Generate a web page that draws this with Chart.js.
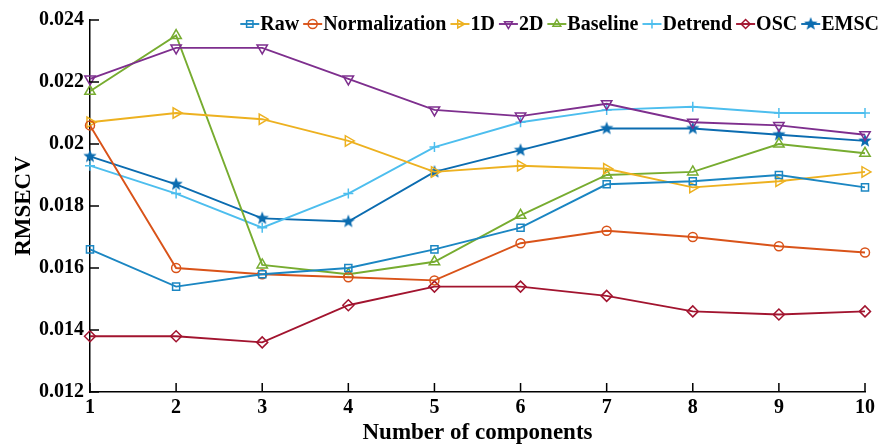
<!DOCTYPE html>
<html>
<head>
<meta charset="utf-8">
<script src="https://cdn.jsdelivr.net/npm/chart.js@4/dist/chart.umd.min.js"></script>
<style>
  html, body { margin: 0; background: #fff; }
  #wrap { width: 882px; height: 447px; }
</style>
</head>
<body>
<div id="wrap"><canvas id="chart" width="882" height="447"></canvas></div>
<script>
// values
const components = ['1', '2', '3', '4', '5', '6', '7', '8', '9', '10'];
const yTickLabels = ['0.012', '0.014', '0.016', '0.018', '0.02', '0.022', '0.024'];

const raw           = [0.0166, 0.0154, 0.0158, 0.0160, 0.0166, 0.0173, 0.0187, 0.0188, 0.0190, 0.0186];
const normalization = [0.0206, 0.0160, 0.0158, 0.0157, 0.0156, 0.0168, 0.0172, 0.0170, 0.0167, 0.0165];
const firstDeriv    = [0.0207, 0.0210, 0.0208, 0.0201, 0.0191, 0.0193, 0.0192, 0.0186, 0.0188, 0.0191];
const secondDeriv   = [0.0221, 0.0231, 0.0231, 0.0221, 0.0211, 0.0209, 0.0213, 0.0207, 0.0206, 0.0203];
const baseline      = [0.0217, 0.0235, 0.0161, 0.0158, 0.0162, 0.0177, 0.0190, 0.0191, 0.0200, 0.0197];
const detrend       = [0.0193, 0.0184, 0.0173, 0.0184, 0.0199, 0.0207, 0.0211, 0.0212, 0.0210, 0.0210];
const osc           = [0.0138, 0.0138, 0.0136, 0.0148, 0.0154, 0.0154, 0.0151, 0.0146, 0.0145, 0.0146];
const emsc          = [0.0196, 0.0187, 0.0176, 0.0175, 0.0191, 0.0198, 0.0205, 0.0205, 0.0203, 0.0201];

const FONT = '"Liberation Serif", "Times New Roman", serif';

// filled five point star for EMSC (chart.js 'star' is an asterisk)
function makeStar(color, r) {
  const c = document.createElement('canvas');
  c.width = c.height = r * 2 + 2;
  const g = c.getContext('2d');
  const cx = r + 1, cy = r + 1;
  g.beginPath();
  for (let i = 0; i < 10; i++) {
    const rr = i % 2 === 0 ? r : r * 0.42;
    const a = -Math.PI / 2 + i * Math.PI / 5;
    g.lineTo(cx + rr * Math.cos(a), cy + rr * Math.sin(a));
  }
  g.closePath();
  g.fillStyle = color;
  g.fill();
  return c;
}

function series(label, data, color, pointStyle, rotation, radius) {
  return {
    label,
    data,
    borderColor: color,
    backgroundColor: 'rgba(0,0,0,0)',
    borderWidth: 1.9,
    pointStyle,
    rotation,
    pointRadius: radius,
    pointBorderWidth: 1.5,
    pointBorderColor: color,
    pointBackgroundColor: 'rgba(0,0,0,0)',
    tension: 0,
  };
}

const datasets = [
  series('Raw', raw, '#1b86c2', 'rect', 0, 5),
  series('Normalization', normalization, '#d95319', 'circle', 0, 4.5),
  series('1D', firstDeriv, '#edb120', 'triangle', 90, 6),
  series('2D', secondDeriv, '#7e2f8e', 'triangle', 180, 6),
  series('Baseline', baseline, '#77ac30', 'triangle', 0, 6),
  series('Detrend', detrend, '#4dbeee', 'cross', 0, 5),
  series('OSC', osc, '#a2142f', 'rectRot', 0, 5.5),
  series('EMSC', emsc, '#0b6cb0', makeStar('#0b6cb0', 7), 0, 7),
];

// MATLAB style inward ticks on the left and bottom axes
const inwardTicks = {
  id: 'inwardTicks',
  afterDatasetsDraw(chart) {
    const { ctx, chartArea, scales } = chart;
    ctx.save();
    ctx.strokeStyle = '#000';
    ctx.lineWidth = 1.5;
    ctx.beginPath();
    scales.x.ticks.forEach((t, i) => {
      const px = scales.x.getPixelForTick(i);
      ctx.moveTo(px, chartArea.bottom);
      ctx.lineTo(px, chartArea.bottom - 9);
    });
    scales.y.ticks.forEach((t, i) => {
      const py = scales.y.getPixelForTick(i);
      ctx.moveTo(chartArea.left, py);
      ctx.lineTo(chartArea.left + 9, py);
    });
    ctx.stroke();
    ctx.restore();
  }
};

// legend drawn inside the axes, right aligned, line + marker + label
const insideLegend = {
  id: 'insideLegend',
  afterDraw(chart) {
    const { ctx } = chart;
    const right = 879, cy = 24, lineW = 19, gap = 1, space = 4;
    ctx.save();
    ctx.font = 'bold 20px ' + FONT;
    ctx.textBaseline = 'middle';
    const items = chart.data.datasets.map(ds => ({ ds, w: ctx.measureText(ds.label).width }));
    const total = items.reduce((s, it) => s + lineW + gap + it.w + space, 0) - space;
    let x = right - total;
    items.forEach(({ ds, w }) => {
      ctx.strokeStyle = ds.borderColor;
      ctx.lineWidth = 1.9;
      ctx.beginPath();
      ctx.moveTo(x, cy);
      ctx.lineTo(x + lineW, cy);
      ctx.stroke();
      ctx.fillStyle = 'rgba(0,0,0,0)';
      ctx.lineWidth = 1.5;
      const r = typeof ds.pointStyle === 'string' ? Math.min(ds.pointRadius, 4.5) : ds.pointRadius;
      Chart.helpers.drawPoint(ctx, {
        pointStyle: ds.pointStyle, rotation: ds.rotation, radius: r, borderWidth: 1.5
      }, x + lineW / 2, cy);
      ctx.fillStyle = '#000';
      ctx.fillText(ds.label, x + lineW + gap, cy + 1);
      x += lineW + gap + w + space;
    });
    ctx.restore();
  }
};

new Chart(document.getElementById('chart'), {
  type: 'line',
  data: { labels: components, datasets },
  options: {
    responsive: false,
    animation: false,
    layout: { padding: { left: 0, top: 20, right: 17, bottom: 0 } },
    plugins: {
      legend: { display: false },
      tooltip: { enabled: false },
    },
    scales: {
      x: {
        type: 'category',
        offset: false,
        grid: { drawOnChartArea: false, drawTicks: false, offset: false },
        border: { display: true, color: '#000', width: 1.5 },
        ticks: {
          padding: 4, color: '#000', maxRotation: 0, autoSkip: false,
          font: { family: FONT, size: 20, weight: 'bold' }
        },
        title: {
          display: true, text: 'Number of components', color: '#000', padding: { top: 0, bottom: 0 },
          font: { family: FONT, size: 23, weight: 'bold' }
        },
        afterFit(scale) { scale.height = 55; }
      },
      y: {
        min: 0.012,
        max: 0.024,
        grid: { drawOnChartArea: false, drawTicks: false },
        border: { display: true, color: '#000', width: 1.5 },
        ticks: {
          stepSize: 0.002, padding: 6, color: '#000',
          font: { family: FONT, size: 20, weight: 'bold' },
          callback: (v, i) => yTickLabels[i]
        },
        title: {
          display: true, text: 'RMSECV', color: '#000', padding: { top: 10, bottom: 0 },
          font: { family: FONT, size: 23, weight: 'bold' }
        },
        afterFit(scale) { scale.width = 90; }
      }
    }
  },
  plugins: [inwardTicks, insideLegend]
});
</script>
</body>
</html>
